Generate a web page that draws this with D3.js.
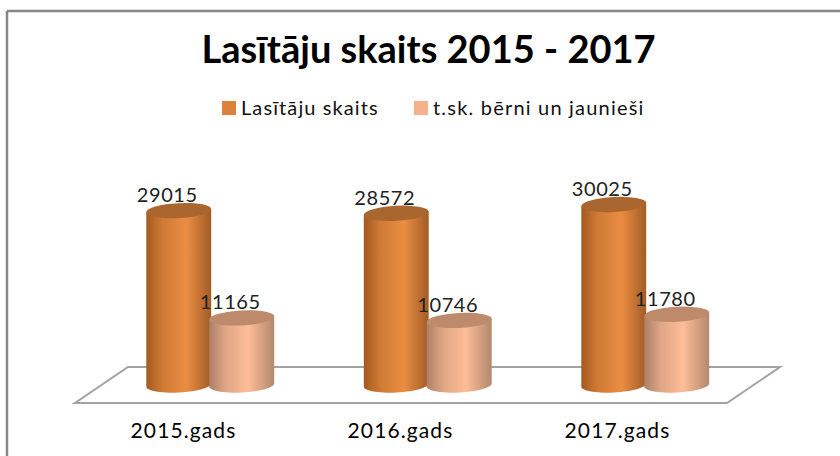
<!DOCTYPE html>
<html><head><meta charset="utf-8">
<script src="https://cdn.jsdelivr.net/npm/d3@7"></script>
<style>html,body{margin:0;padding:0;background:#fff;overflow:hidden}svg{display:block}text{font-family:Lato,"Open Sans",sans-serif}</style>
</head><body><svg id="c" width="840" height="456"></svg>
<script>
const categories = ["2015.gads","2016.gads","2017.gads"];
const seriesNames = ["Lasītāju skaits","t.sk. bērni un jaunieši"];
const readers = [29015,28572,30025];
const youth = [11165,10746,11780];
const title = "Lasītāju skaits 2015 - 2017";

const svg = d3.select("#c");
const defs = svg.append("defs");
const palettes = [
  {id:"g0",stops:[["0%","#a35a20"],["25%","#cf7a35"],["62%","#ea8d42"],["100%","#a25c26"]],top:"#a9662f",leg:"#dc823c"},
  {id:"g1",stops:[["0%","#ab8068"],["25%","#e0a684"],["60%","#febd97"],["100%","#b3886e"]],top:"#bd8a6c",leg:"#f6b08c"}
];
palettes.forEach(p=>{
  const g=defs.append("linearGradient").attr("id",p.id);
  p.stops.forEach(s=>g.append("stop").attr("offset",s[0]).attr("stop-color",s[1]));
});

svg.append("path").attr("d","M7,11H840M7,11V456").attr("fill","none").attr("stroke","#878787").attr("stroke-width",2.5);

svg.append("text").attr("x",428.5).attr("y",63).attr("text-anchor","middle")
  .attr("font-size",38).attr("font-weight",700).attr("fill","#000").text(title);

const legendX=[222,414];
const legendSpacing=[1.1,1.2];
seriesNames.forEach((n,i)=>{
  svg.append("rect").attr("x",legendX[i]).attr("y",101).attr("width",14).attr("height",14).attr("fill",palettes[i].leg);
  svg.append("text").attr("x",legendX[i]+19).attr("y",115).attr("font-size",20).attr("letter-spacing",legendSpacing[i]).attr("fill","#111").text(n);
});

const line=d3.line();
svg.append("path").attr("d",line([[75,403],[727,403],[780,367],[128,367]])+"Z")
  .attr("fill","none").attr("stroke","#a3a3a3").attr("stroke-width",2);

const x=d3.scaleBand().domain(categories).range([92,744.5]);
const labelX=d3.scalePoint().domain(categories).range([183.5,617.5]);
const y=d3.scaleLinear().domain([0,30000]).range([385,204.7]);
const rx=32.5, ry=7.5, tilt=-3*Math.PI/180;
const offs=[-22,41];
const ang=d3.range(0,181,6).map(d=>d*Math.PI/180);
const ept=(cx,cy,t)=>[cx+rx*Math.cos(t)*Math.cos(tilt)-ry*Math.sin(t)*Math.sin(tilt),
                      cy+rx*Math.cos(t)*Math.sin(tilt)+ry*Math.sin(t)*Math.cos(tilt)];

function cyl(g,cx,v,i){
  const yb=y(0), yt=y(v);
  const bottom=ang.map(t=>ept(cx,yb,t));
  const pts=[ept(cx,yt,0),...bottom,ept(cx,yt,Math.PI)];
  g.append("path").attr("d",line(pts)+"Z").attr("fill",`url(#${palettes[i].id})`);
  g.append("ellipse").attr("cx",cx).attr("cy",yt).attr("rx",rx).attr("ry",ry)
    .attr("transform",`rotate(-3 ${cx} ${yt})`).attr("fill",palettes[i].top);
}
function label(cx,v){
  svg.append("text").attr("x",cx-11.5).attr("y",y(v)-8.5).attr("text-anchor","middle")
    .attr("font-size",20).attr("letter-spacing",0.6).attr("fill","#222").text(v);
}
categories.forEach((c,k)=>{
  const g=svg.append("g");
  const c0=x(c)+x.bandwidth()/2;
  cyl(g,c0+offs[0],readers[k],0);
  cyl(g,c0+offs[1],youth[k],1);
  label(c0+offs[0],readers[k]);
  label(c0+offs[1],youth[k]);
  svg.append("text").attr("x",labelX(c)).attr("y",438).attr("text-anchor","middle")
    .attr("font-size",21).attr("letter-spacing",1.1).attr("fill","#000").text(c);
});
</script></body></html>
